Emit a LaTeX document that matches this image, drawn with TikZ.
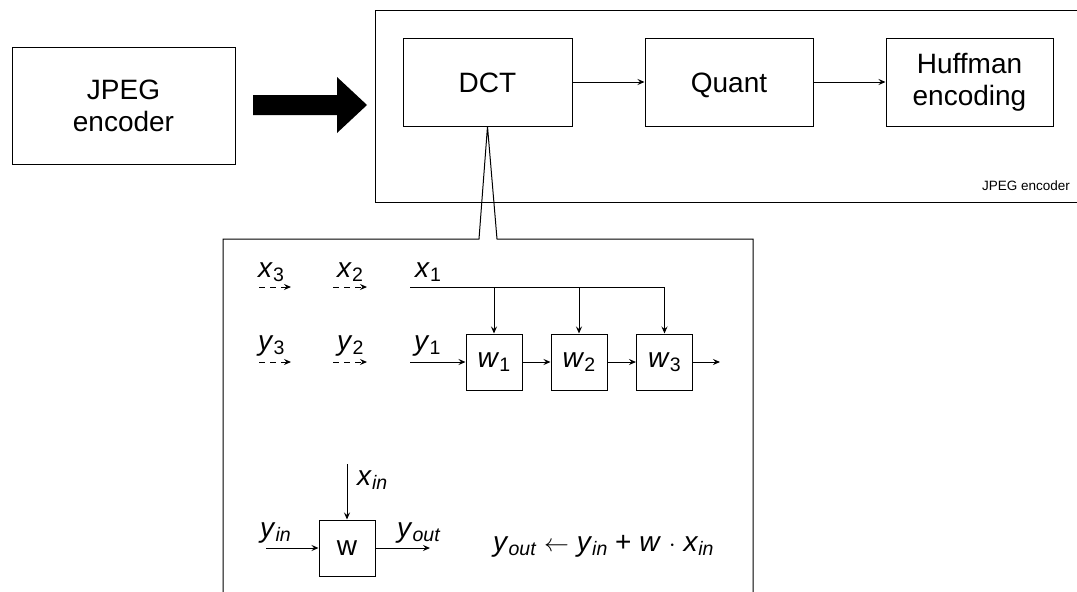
\documentclass[tikz,border=0pt]{standalone}
\usepackage{fontspec}
\setmainfont{Liberation Sans}
\usetikzlibrary{arrows.meta}
\newcommand\vsub[2]{\textit{#1}\raisebox{-4pt}{\fontsize{19.5}{20}\selectfont #2}}
\begin{document}
\begin{tikzpicture}[x=1pt,y=-1pt,
  every node/.style={font=\fontsize{28}{32}\selectfont, inner sep=0pt},
  box/.style={draw, line width=1pt, align=center},
  onebox/.style={box, text height=20pt, text depth=0pt},
  wbox/.style={box, minimum width=56, minimum height=56},
  arr/.style={line width=1pt, -{Stealth[length=7pt,width=6pt,inset=2.5pt]}},
  dasharr/.style={arr, dash pattern=on 6pt off 5pt},
  lbl/.style={anchor=base west},
  frame/.style={line width=1pt}]
\useasboundingbox (0,0) rectangle (1077,592);

% left box and big arrow
\node[box, minimum width=223, minimum height=117] (jpeg) at (123.5,105.5) {JPEG\\encoder};
\fill (253,95) -- (337,95) -- (337,77) -- (367,105) -- (337,133) -- (337,115) -- (253,115) -- cycle;

% outer encoder frame
\draw[frame] (375,10) rectangle (1080,202);
\node[anchor=base east, font=\fontsize{13.5}{15}\selectfont] (enclabel) at (1070,190) {JPEG encoder};

\node[onebox, minimum width=169, minimum height=88] (dct) at (487.5,82) {DCT};
\node[onebox, minimum width=168, minimum height=88] (quant) at (729,82) {Quant};
\node[box, minimum width=167, minimum height=88] (huff) at (969.5,82) {Huffman\\encoding};
\draw[arr] (dct) -- (quant);
\draw[arr] (quant) -- (huff);

% inset frame with zoom wedge
\draw[frame] (223,600) -- (223,239) -- (479,239) -- (dct.south) -- (497,239) -- (753,239) -- (753,600);

% labels
\node[lbl] (lx3) at (258,277) {\vsub{x}{3}};
\node[lbl] (lx2) at (337,277) {\vsub{x}{2}};
\node[lbl] (lx1) at (415,277) {\vsub{x}{1}};
\node[lbl] (ly3) at (258,350) {\vsub{y}{3}};
\node[lbl] (ly2) at (337,350) {\vsub{y}{2}};
\node[lbl] (ly1) at (414,350) {\vsub{y}{1}};

% dashed arrows
\coordinate (dx3a) at (259,287); \coordinate (dx3b) at (291,287);
\coordinate (dx2a) at (333,287); \coordinate (dx2b) at (367,287);
\coordinate (dy3a) at (259,362); \coordinate (dy3b) at (291,362);
\coordinate (dy2a) at (333,362); \coordinate (dy2b) at (367,362);
\draw[dasharr] (dx3a) -- (dx3b);
\draw[dasharr] (dx2a) -- (dx2b);
\draw[dasharr] (dy3a) -- (dy3b);
\draw[dasharr] (dy2a) -- (dy2b);

% systolic chain
\node[wbox] (w1) at (494,362) {\vsub{w}{1}};
\node[wbox] (w2) at (579,362) {\vsub{w}{2}};
\node[wbox] (w3) at (664.5,362) {\vsub{w}{3}};
\coordinate (xs) at (410,287);
\coordinate (ys) at (410,362);
\coordinate (yo) at (720,362);
\draw[arr] (xs) -| (w1.north);
\draw[arr] (xs) -| (w2.north);
\draw[arr] (xs) -| (w3.north);
\draw[arr] (ys) -- (w1);
\draw[arr] (w1) -- (w2);
\draw[arr] (w2) -- (w3);
\draw[arr] (w3) -- (yo);

% single cell
\node[wbox] (w) at (347,548) {w};
\coordinate (xin) at (347,464);
\coordinate (yin) at (266,548);
\coordinate (yout) at (430,548);
\draw[arr] (xin) -- (w);
\draw[arr] (yin) -- (w);
\draw[arr] (w) -- (yout);
\node[lbl] (lxin) at (357,485) {\vsub{x}{\textit{in}}};
\node[lbl] (lyin) at (260,537) {\vsub{y}{\textit{in}}};
\node[lbl] (lyout) at (397,537) {\vsub{y}{\textit{out}}};
\node[lbl] (formula) at (493,551) {\vsub{y}{\textit{out}} $\leftarrow$ \vsub{y}{\textit{in}} + \textit{w} $\cdot$ \vsub{x}{\textit{in}}};
\end{tikzpicture}
\end{document}
